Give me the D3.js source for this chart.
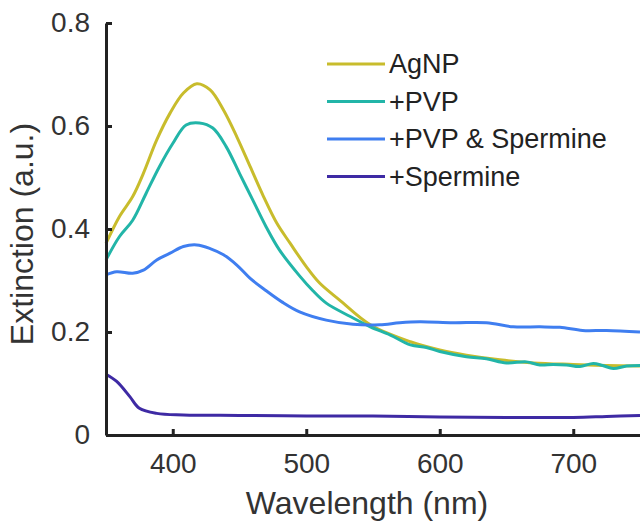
<!DOCTYPE html>
<html>
<head>
<meta charset="utf-8">
<script src="https://cdn.jsdelivr.net/npm/d3@7"></script>
<style>
  body { margin: 0; background: #fff; }
  svg { display: block; font-family: "Liberation Sans", Arial, sans-serif; }
</style>
</head>
<body>
<svg></svg>
<script>
// data
const seriesNames = ["AgNP", "+PVP", "+PVP & Spermine", "+Spermine"]
const seriesColors = ["#c8bc2c", "#22b5a8", "#3f7ef0", "#3e2aa4"]

const agnpX = [350, 360, 370, 378, 388, 398, 408, 418, 428, 438, 448, 458, 468, 478, 488, 500, 510, 525, 548, 578, 600, 620, 645, 670, 700, 725, 750]
const agnpY = [0.372, 0.424, 0.463, 0.508, 0.573, 0.625, 0.664, 0.682, 0.670, 0.631, 0.579, 0.521, 0.463, 0.411, 0.372, 0.327, 0.295, 0.262, 0.214, 0.181, 0.165, 0.155, 0.146, 0.140, 0.137, 0.135, 0.134]

const pvpX = [350, 360, 370, 380, 390, 400, 410, 420, 430, 440, 450, 460, 470, 480, 495, 505, 515, 533, 548, 563, 578, 590, 600, 620, 635, 650, 665, 675, 685, 695, 705, 715, 722, 730, 740, 750]
const pvpY = [0.340, 0.385, 0.417, 0.469, 0.521, 0.566, 0.602, 0.606, 0.596, 0.560, 0.508, 0.456, 0.404, 0.359, 0.309, 0.280, 0.256, 0.230, 0.210, 0.194, 0.175, 0.170, 0.162, 0.152, 0.148, 0.140, 0.142, 0.136, 0.137, 0.136, 0.133, 0.139, 0.135, 0.129, 0.134, 0.135]

const pvpSpX = [350, 358, 370, 378, 388, 398, 408, 418, 428, 438, 448, 458, 470, 482, 495, 515, 535, 555, 570, 585, 610, 635, 655, 675, 690, 707, 725, 750]
const pvpSpY = [0.311, 0.317, 0.314, 0.320, 0.340, 0.353, 0.366, 0.369, 0.362, 0.350, 0.330, 0.304, 0.280, 0.258, 0.239, 0.223, 0.215, 0.214, 0.218, 0.220, 0.218, 0.218, 0.210, 0.210, 0.209, 0.203, 0.203, 0.200]

const spermX = [350, 358, 368, 375, 388, 408, 450, 500, 550, 600, 650, 700, 725, 750]
const spermY = [0.118, 0.104, 0.074, 0.052, 0.042, 0.039, 0.038, 0.037, 0.037, 0.035, 0.034, 0.034, 0.036, 0.038]

const xTicks = [400, 500, 600, 700]
const yTicks = [0, 0.2, 0.4, 0.6, 0.8]

const series = [
  { name: seriesNames[0], color: seriesColors[0], x: agnpX, y: agnpY },
  { name: seriesNames[1], color: seriesColors[1], x: pvpX, y: pvpY },
  { name: seriesNames[2], color: seriesColors[2], x: pvpSpX, y: pvpSpY },
  { name: seriesNames[3], color: seriesColors[3], x: spermX, y: spermY },
]

const dimensions = {
  width: 640,
  height: 527,
  margin: { top: 23, bottom: 92, right: 0, left: 106 },
}
dimensions.boundedWidth = dimensions.width - dimensions.margin.left - dimensions.margin.right
dimensions.boundedHeight = dimensions.height - dimensions.margin.top - dimensions.margin.bottom

const wrapper = d3.select("svg")
  .attr("width", dimensions.width)
  .attr("height", dimensions.height)

const bounds = wrapper.append("g")
  .attr("transform", `translate(${dimensions.margin.left},${dimensions.margin.top})`)

const xScale = d3.scaleLinear()
  .domain([350, 750])
  .range([0, dimensions.boundedWidth])

const yScale = d3.scaleLinear()
  .domain([0, 0.8])
  .range([dimensions.boundedHeight, 0])

// curves
const lineGenerator = d3.line()
  .x(d => xScale(d[0]))
  .y(d => yScale(d[1]))
  .curve(d3.curveCatmullRom.alpha(0.5))

series.forEach(s => {
  bounds.append("path")
    .attr("d", lineGenerator(d3.zip(s.x, s.y)))
    .attr("fill", "none")
    .attr("stroke", s.color)
    .attr("stroke-width", 3)
    .attr("stroke-linejoin", "round")
})

// axes
const xAxis = bounds.append("g")
  .attr("transform", `translate(0,${dimensions.boundedHeight})`)
  .call(d3.axisBottom(xScale).tickValues(xTicks).tickSizeInner(-6).tickSizeOuter(0).tickPadding(18))
const yAxis = bounds.append("g")
  .call(d3.axisLeft(yScale).tickValues(yTicks).tickFormat(d => d === 0 ? "0" : d3.format(".1f")(d)).tickSizeInner(-6).tickSizeOuter(0).tickPadding(16))

;[xAxis, yAxis].forEach(ax => {
  ax.select(".domain").attr("stroke", "#222").attr("stroke-width", 3)
  ax.selectAll(".tick line").attr("stroke", "#222").attr("stroke-width", 3)
  ax.selectAll(".tick text").attr("fill", "#333").style("font-size", "28px")
})

wrapper.append("text")
  .attr("x", dimensions.margin.left + dimensions.boundedWidth / 2 - 6)
  .attr("y", 514)
  .attr("text-anchor", "middle")
  .attr("fill", "#333")
  .style("font-size", "32px")
  .text("Wavelength (nm)")

wrapper.append("text")
  .attr("transform", `translate(33,234) rotate(-90)`)
  .attr("text-anchor", "middle")
  .attr("fill", "#333")
  .style("font-size", "32px")
  .text("Extinction (a.u.)")

// legend
const legend = wrapper.append("g")
  .attr("transform", "translate(327,64)")
series.forEach((s, i) => {
  const row = legend.append("g").attr("transform", `translate(0,${i * 37.5})`)
  row.append("line")
    .attr("x1", 0).attr("x2", 58)
    .attr("stroke", s.color)
    .attr("stroke-width", 3)
  row.append("text")
    .attr("x", 62)
    .attr("dy", "0.35em")
    .attr("fill", "#222")
    .style("font-size", "27px")
    .text(s.name)
})
</script>
</body>
</html>
